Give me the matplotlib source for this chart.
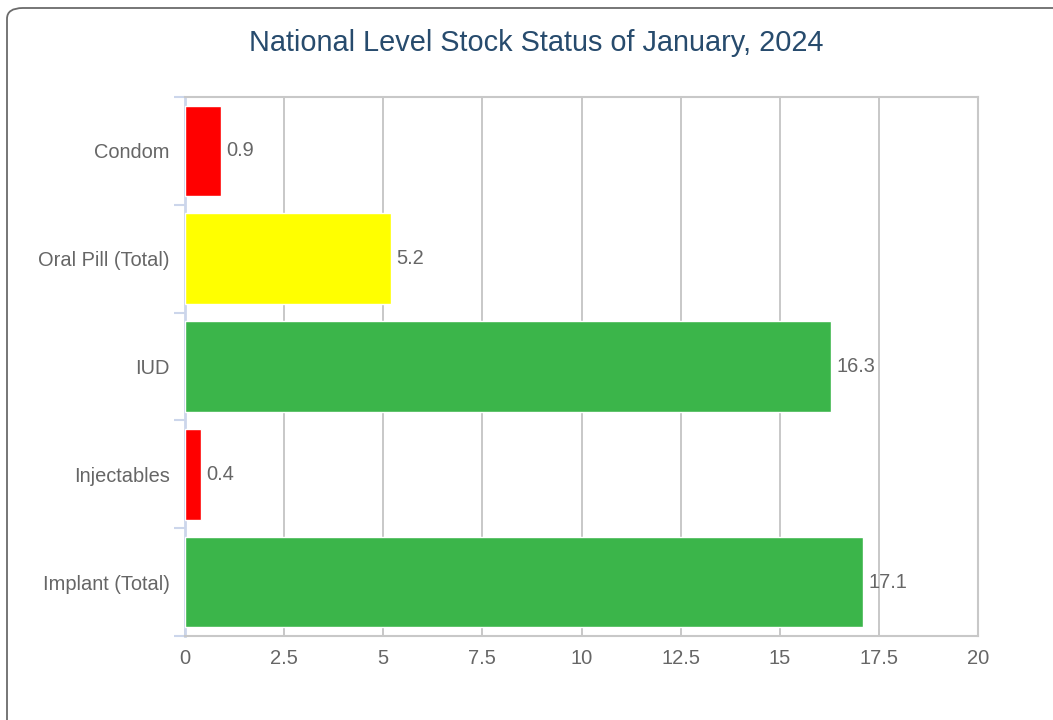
import matplotlib
matplotlib.use('Agg')
from matplotlib import pyplot as plt
from matplotlib.patches import FancyBboxPatch

plt.rcParams['font.family'] = ['Liberation Sans', 'DejaVu Sans']

categories = ['Condom', 'Oral Pill (Total)', 'IUD', 'Injectables', 'Implant (Total)']
values = [0.9, 5.2, 16.3, 0.4, 17.1]
colors = ['#ff0000', '#ffff00', '#3bb54a', '#ff0000', '#3bb54a']
xticks = [0, 2.5, 5, 7.5, 10, 12.5, 15, 17.5, 20]
xlabels = ['0', '2.5', '5', '7.5', '10', '12.5', '15', '17.5', '20']

fig = plt.figure(figsize=(10.53, 7.2), dpi=100)

# outer rounded frame (only left/top visible)
frame = FancyBboxPatch((7/1053, -0.05), 1.2, 1 - 8/720 + 0.05,
                       boxstyle='round,pad=0,rounding_size=0.015',
                       transform=fig.transFigure, fill=False,
                       edgecolor='#6b6b6b', lw=1.3)
fig.patches.append(frame)

ax = fig.add_axes([185/1053, 1 - 636/720, (978-185)/1053, (636-97)/720])
ypos = list(range(len(categories)))
ax.barh(ypos, values, height=0.84, color=colors, edgecolor='white', lw=1, zorder=3)
ax.set_xlim(0, 20)
ax.set_ylim(4.5, -0.5)

ax.set_xticks(xticks)
ax.set_xticklabels(xlabels)
ax.set_yticks(ypos)
ax.set_yticklabels(categories)
ax.set_yticks([i - 0.5 for i in range(len(categories) + 1)], minor=True)

ax.grid(axis='x', color='#c8c8c8', lw=1.4, zorder=0)
ax.tick_params(axis='y', which='major', length=0, pad=11, labelsize=14.4, labelcolor='#666666')
ax.tick_params(axis='y', which='minor', length=8, width=1.5, color='#ccd6eb')
ax.tick_params(axis='x', direction='in', length=5, width=1.4, color='#c8c8c8',
               pad=9, labelsize=14.5, labelcolor='#666666')

for s in ['top', 'right', 'bottom']:
    ax.spines[s].set_color('#c8c8c8')
    ax.spines[s].set_linewidth(1.5)
ax.spines['left'].set_color('#ccd6eb')
ax.spines['left'].set_linewidth(2)

for y, v in zip(ypos, values):
    ax.text(v + 0.13, y, str(v), va='center', ha='left', fontsize=14.4,
            color='#666666', zorder=4)

fig.text(536/1053, 1 - 43/720, 'National Level Stock Status of January, 2024',
         ha='center', va='center', fontsize=20.8, color='#274b6d')

fig.savefig('out.png', dpi=100)
